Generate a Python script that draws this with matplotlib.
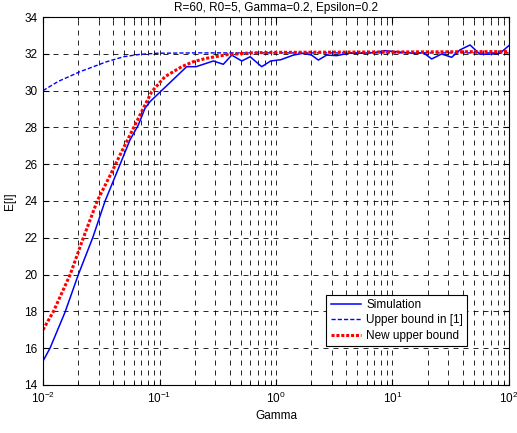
import matplotlib
matplotlib.use("Agg")
import matplotlib.pyplot as plt
import numpy as np

plt.rcParams['font.family'] = ['Liberation Sans', 'DejaVu Sans']

# simulation
sim_gamma = [0.01, 0.01148, 0.01544, 0.0201, 0.0267, 0.0341, 0.0421, 0.0558, 0.0658,
             0.0751, 0.0829, 0.171, 0.206, 0.290, 0.353, 0.417, 0.508,
             0.60, 0.754, 0.90, 1.10, 1.41, 1.71, 2.02, 2.31, 2.72, 3.32, 4.17,
             5.26, 6.84, 8.63, 10.9, 15.1, 18.4, 21.7, 26.4, 32.2, 37.9, 46.3,
             56.3, 68.7, 83.7, 100]
sim_E = [15.3, 16.0, 17.95, 20.0, 22.0, 24.0, 25.41, 27.32, 28.13,
         29.04, 29.40, 31.30, 31.30, 31.61, 31.43, 31.93, 31.61,
         31.84, 31.30, 31.61, 31.68, 31.93, 32.03, 31.93, 31.66, 31.93, 31.90, 32.03,
         32.03, 32.06, 32.17, 32.11, 32.03, 32.06, 31.72, 31.99, 31.81, 32.21, 32.48,
         31.98, 31.98, 32.03, 32.45]

# upper bound in [1]
old_gamma = [0.01, 0.0135, 0.0208, 0.0352, 0.049, 0.068, 0.0947, 0.2, 1, 10, 100]
old_E = [30.0, 30.5, 31.03, 31.57, 31.84, 31.97, 32.03, 32.05, 32.05, 32.05, 32.05]

# new upper bound
new_gamma = [0.01, 0.0123, 0.0171, 0.0222, 0.0292, 0.0384, 0.0458, 0.0558, 0.0658,
             0.0751, 0.0857, 0.1115, 0.155, 0.195, 0.25, 0.378, 0.6, 1, 10, 100]
new_E = [17.0, 18.0, 20.0, 22.0, 24.0, 25.5, 26.5, 27.59, 28.49,
         29.22, 29.94, 30.76, 31.30, 31.57, 31.75, 31.95, 32.05, 32.08, 32.1, 32.12]

title = "R=60, R0=5, Gamma=0.2, Epsilon=0.2"
labels = ["Simulation", "Upper bound in [1]", "New upper bound"]


def main():
    fs = 8.5
    fig = plt.figure(figsize=(5.17, 4.33), dpi=100)
    ax = fig.add_subplot(111)
    fig.subplots_adjust(left=0.0832, right=0.9845, top=0.9607, bottom=0.1109)

    ax.semilogx(sim_gamma, sim_E, '-', color='#0000ff', lw=1.1, label=labels[0])
    ax.semilogx(old_gamma, old_E, '--', color='#0000ff', lw=1.0,
                dashes=(3, 1.5), label=labels[1])
    ax.semilogx(new_gamma, new_E, color='#ff0000', lw=2.2,
                linestyle=(0, (1, 0.6)), label=labels[2])

    ax.set_xlim(0.01, 100)
    ax.set_ylim(14, 34)
    ax.set_yticks(np.arange(14, 35, 2))

    ax.grid(True, which='major', color='black', ls=(0, (6, 6)), lw=0.6)
    ax.grid(True, which='minor', axis='x', color='black', ls=(0, (6, 6)), lw=0.6)
    ax.tick_params(which='both', direction='in', top=True, right=True, labelsize=fs)
    ax.tick_params(which='major', length=4, pad=4)
    ax.tick_params(which='minor', length=2)
    for s in ax.spines.values():
        s.set_linewidth(0.8)

    ax.set_title(title, fontsize=fs, pad=4)
    ax.set_xlabel("Gamma", fontsize=fs, labelpad=3)
    ax.set_ylabel("E[I]", fontsize=fs, labelpad=6)

    leg = ax.legend(loc='lower right', bbox_to_anchor=(0.910, 0.106), fontsize=fs,
                    fancybox=False, framealpha=1, edgecolor='black',
                    handlelength=2.6, handletextpad=0.4, borderpad=0.35,
                    labelspacing=0.3, borderaxespad=0)
    leg.get_frame().set_linewidth(0.8)

    fig.savefig("out.png", dpi=100)


if __name__ == "__main__":
    main()
